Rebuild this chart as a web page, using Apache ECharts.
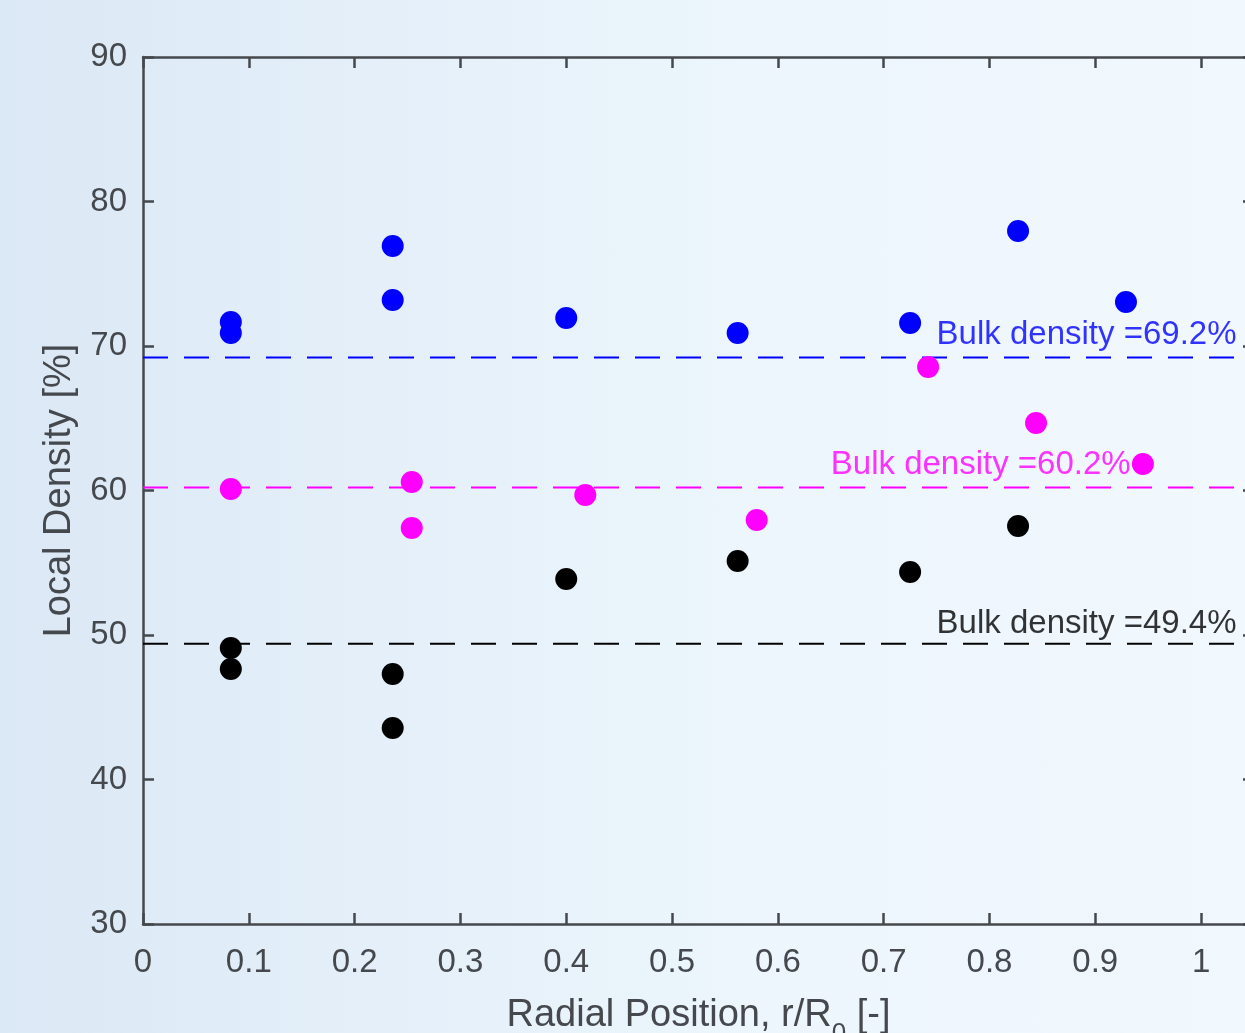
<!DOCTYPE html>
<html>
<head>
<meta charset="utf-8">
<script src="https://cdn.jsdelivr.net/npm/echarts@6/dist/echarts.min.js"></script>
<style>
html,body{margin:0;padding:0;width:1245px;height:1033px;overflow:hidden;
background:linear-gradient(90deg,#dbe8f5 0%,#e4eff9 30%,#ecf6fc 60%,#f1f8fe 100%);}
#c{width:1245px;height:1033px;}
</style>
</head>
<body>
<div id="c"></div>
<script>
// ---- data ----
const blueX = [0.083, 0.083, 0.236, 0.236, 0.400, 0.562, 0.725, 0.827, 0.929];
const blueY = [71.66, 70.90, 76.92, 73.18, 71.94, 70.90, 71.59, 77.96, 73.04];
const magentaX = [0.083, 0.254, 0.254, 0.418, 0.580, 0.742, 0.844, 0.945];
const magentaY = [60.10, 60.59, 57.40, 59.69, 57.96, 68.55, 64.67, 61.83];
const blackX = [0.083, 0.083, 0.236, 0.236, 0.400, 0.562, 0.725, 0.827];
const blackY = [49.10, 47.65, 47.30, 43.56, 53.88, 55.12, 54.36, 57.54];
const bulkValues = [69.2, 60.2, 49.4];
const bulkColors = ['#0000ff', '#ff00ff', '#000000'];
const bulkLabels = ['Bulk density =69.2%', 'Bulk density =60.2%', 'Bulk density =49.4%'];
const labelX = [0.75, 0.65, 0.75];
const labelY = [70.8, 61.8, 50.8];
const xMin = 0, xMax = 1.05, xStep = 0.1;
const yMin = 30, yMax = 90, yStep = 10;

const FONT = "'Liberation Sans', Arial, Helvetica, sans-serif";
const AX = '#45494e';

const zip = (xs, ys) => xs.map((x, i) => [x, ys[i]]);

function axisLine() { return {show: true, onZero: false, lineStyle: {color: AX, width: 2.5}}; }
function axisTick() { return {show: true, inside: true, length: 11, lineStyle: {color: AX, width: 2.5}}; }

const chart = echarts.init(document.getElementById('c'), null, {renderer: 'canvas'});

const series = [];
bulkValues.forEach((v, i) => {
  series.push({
    type: 'line', xAxisIndex: 0, yAxisIndex: 0, silent: true,
    data: [[xMin, v], [xMax, v]], showSymbol: false, symbol: 'none',
    lineStyle: {color: bulkColors[i], width: 2, type: [25, 16]}, z: 2
  });
});
series.push({
  type: 'scatter', symbolSize: 0, silent: true, z: 5,
  data: labelX.map((x, i) => ({
    value: [x, labelY[i]],
    label: {show: true, position: 'right', distance: 0, formatter: bulkLabels[i],
      color: bulkColors[i], fontSize: 33, fontFamily: FONT}
  }))
});
[[blueX, blueY, '#0000ff'], [magentaX, magentaY, '#ff00ff'], [blackX, blackY, '#000000']].forEach(s => {
  series.push({
    type: 'scatter', data: zip(s[0], s[1]), symbol: 'circle', symbolSize: 22,
    itemStyle: {color: s[2], opacity: 1}, z: 4, silent: true
  });
});

chart.setOption({
  animation: false,
  backgroundColor: 'transparent',
  grid: {left: 143, top: 57, width: 1111, height: 867, containLabel: false, outerBoundsMode: 'none'},
  xAxis: [
    {
      type: 'value', position: 'bottom', min: xMin, max: xMax, interval: xStep,
      axisLine: axisLine(), axisTick: axisTick(), splitLine: {show: false},
      axisLabel: {show: true, showMaxLabel: false, color: AX, fontSize: 33, fontFamily: FONT, margin: 22,
        formatter: v => (Math.round(v * 10) / 10).toString()},
      name: 'Radial Position, r/R{sub|0} [-]', nameLocation: 'middle', nameGap: 73,
      nameTextStyle: {color: AX, fontSize: 38, fontFamily: FONT,
        rich: {sub: {fontSize: 26, verticalAlign: 'bottom', color: AX, fontFamily: FONT, padding: [0, 0, -12, 0]}}}
    },
    {
      type: 'value', position: 'top', min: xMin, max: xMax, interval: xStep,
      axisLine: axisLine(), axisTick: axisTick(), splitLine: {show: false},
      axisLabel: {show: false}
    }
  ],
  yAxis: [
    {
      type: 'value', position: 'left', min: yMin, max: yMax, interval: yStep,
      axisLine: axisLine(), axisTick: axisTick(), splitLine: {show: false},
      axisLabel: {show: true, color: AX, fontSize: 33, fontFamily: FONT, margin: 16},
      name: 'Local Density [%]', nameLocation: 'middle', nameGap: 64,
      nameTextStyle: {color: AX, fontSize: 38, fontFamily: FONT}
    },
    {
      type: 'value', position: 'right', min: yMin, max: yMax, interval: yStep,
      axisLine: axisLine(), axisTick: axisTick(), splitLine: {show: false},
      axisLabel: {show: false}
    }
  ],
  series: series
});
</script>
</body>
</html>
